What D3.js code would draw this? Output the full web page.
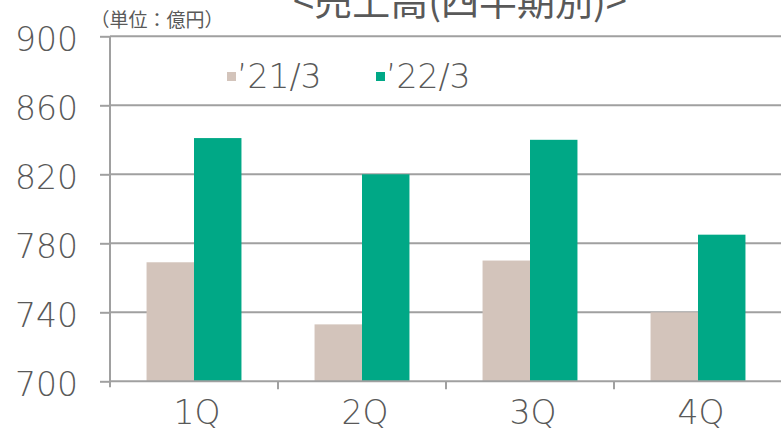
<!DOCTYPE html>
<html>
<head>
<meta charset="utf-8">
<script src="https://cdn.jsdelivr.net/npm/d3@7"></script>
<style>
  html, body { margin: 0; padding: 0; background: #ffffff; }
  svg { display: block; }
  text { font-family: "Noto Sans CJK JP", "Noto Sans", sans-serif; fill: #595959; }
  .num { font-family: "DejaVu Sans", sans-serif; font-weight: 200; }
</style>
</head>
<body>
<svg id="chart" width="781" height="431"></svg>
<script>
const categories = ["1Q", "2Q", "3Q", "4Q"];
const seriesNames = ["'21/3", "'22/3"];
const values2021 = [769, 733, 770, 740];
const values2022 = [841, 820, 840, 785];
const yTicks = [700, 740, 780, 820, 860, 900];
const titleText = "<売上高(四半期別)>";
const unitText = "（単位：億円）";
const colors = ["#d3c4bb", "#00a886"];

(function () {
const series = [values2021, values2022];
const data = categories.map((c, i) => ({ cat: c, vals: series.map((s, j) => ({ key: seriesNames[j], idx: j, v: s[i] })) }));

const svg = d3.select("#chart");
const mLeft = 110, mRight = 782, mTop = 36.3, mBottom = 381.3;
const gridColor = "#a0a0a0";

const x0 = d3.scaleBand().domain(categories).range([mLeft, mRight]).padding(0);
const x1 = d3.scaleBand().domain(seriesNames).range([0, x0.bandwidth()]).paddingInner(0).paddingOuter(0.77);
const y = d3.scaleLinear().domain([700, 900]).range([mBottom, mTop]);

// gridlines
svg.append("g")
  .selectAll("line").data(yTicks.filter(t => t > 700)).join("line")
  .attr("x1", mLeft).attr("x2", 781)
  .attr("y1", d => y(d)).attr("y2", d => y(d))
  .attr("stroke", gridColor).attr("stroke-width", 2);

// bars
const groups = svg.append("g").selectAll("g").data(data).join("g")
  .attr("transform", d => `translate(${x0(d.cat)},0)`);
groups.selectAll("rect").data(d => d.vals).join("rect")
  .attr("x", d => x1(d.key))
  .attr("width", x1.bandwidth())
  .attr("y", d => y(d.v))
  .attr("height", d => y(700) - y(d.v))
  .attr("fill", d => colors[d.idx]);

// y axis
const yAxis = svg.append("g").attr("transform", `translate(${mLeft},0)`)
  .call(d3.axisLeft(y).tickValues(yTicks).tickSize(10).tickSizeOuter(0).tickPadding(22));
yAxis.select(".domain").attr("stroke", gridColor).attr("stroke-width", 2)
  .attr("d", `M0,${mTop}V${mBottom + 6}`);
yAxis.selectAll(".tick line").attr("stroke", gridColor).attr("stroke-width", 2);
yAxis.selectAll(".tick text").attr("class", "num").attr("font-size", 33).attr("fill", "#595959")
  .attr("dy", "0.42em");

// x axis
const xAxis = svg.append("g").attr("transform", `translate(0,${mBottom})`)
  .call(d3.axisBottom(x0).tickSize(0).tickPadding(19));
xAxis.select(".domain").attr("stroke", gridColor).attr("stroke-width", 2)
  .attr("d", `M${mLeft},0H781`);
xAxis.selectAll(".tick text").attr("class", "num").attr("font-size", 33).attr("fill", "#595959")
  .attr("dx", 3);
// category separator ticks
svg.append("g").selectAll("line").data(categories.slice(1)).join("line")
  .attr("x1", d => x0(d)).attr("x2", d => x0(d))
  .attr("y1", mBottom).attr("y2", mBottom + 8)
  .attr("stroke", gridColor).attr("stroke-width", 2);

// title (clipped at top)
svg.append("text").attr("x", 460).attr("y", 15).attr("text-anchor", "middle")
  .attr("font-size", 38).text(titleText);
svg.append("text").attr("x", 157).attr("y", 27).attr("text-anchor", "middle")
  .attr("font-size", 19).text(unitText);

// legend
const legendX = [227, 376];
const lg = svg.append("g").selectAll("g").data(seriesNames).join("g")
  .attr("transform", (d, i) => `translate(${legendX[i]},76)`);
lg.append("rect").attr("x", 0).attr("y", -4).attr("width", 9).attr("height", 9)
  .attr("fill", (d, i) => colors[i]);
lg.append("text").attr("class", "num").attr("x", 10).attr("y", 12).attr("font-size", 33)
  .text(d => d.replace("'", "’"));
})();
</script>
</body>
</html>
